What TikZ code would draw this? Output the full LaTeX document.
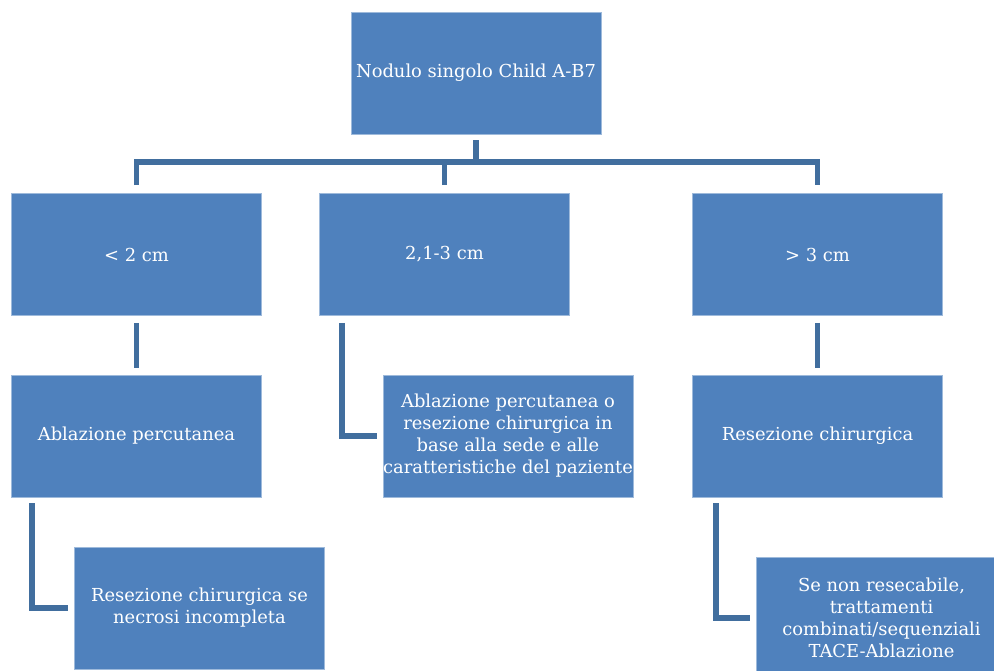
\documentclass[tikz,border=0pt]{standalone}
\usepackage{fontspec}
\setmainfont{DejaVu Serif}
\definecolor{boxblue}{HTML}{4F81BD}
\definecolor{linkblue}{HTML}{416E9E}

\begin{document}
\begin{tikzpicture}[x=1pt,y=-1pt,
    box/.style={fill=boxblue,draw=boxblue!55!white,line width=0.7pt,
      minimum width=250pt,minimum height=122pt,inner sep=0pt,
      align=center,text=white,font=\fontsize{17.9}{22}\selectfont},
    link/.style={draw=linkblue,line width=5.5pt}]
      \useasboundingbox (0,0) rectangle (994,671);
      \clip (0,0) rectangle (994,671);

      \node[box] (top) at (476,73) {Nodulo singolo Child A-B7};
      \node[box] (small) at (136.5,254.5) {< 2 cm};
      \node[box] (mid) at (444.5,254.5) {2,1-3 cm};
      \node[box] (large) at (817.5,254.5) {> 3 cm};

      \node[box] (abl) at (136.5,436) {Ablazione percutanea};
      \node[box] (opt) at (508,436) {Ablazione percutanea o\\resezione chirurgica in\\base alla sede e alle\\caratteristiche del paziente};
      \node[box] (res) at (817.5,436) {Resezione chirurgica};

      \node[box] (resnec) at (199.5,608) {Resezione chirurgica se\\necrosi incompleta};
      \node[box] (combi) at (881.5,618) {Se non resecabile,\\trattamenti\\combinati/sequenziali\\TACE-Ablazione};

      \coordinate (hub) at (476,162);
      \draw[link] ([yshift=-6pt]top.south) -- (hub);
      \draw[link] ([yshift=8pt]small.north) |- (hub) -| ([yshift=8pt]large.north);
      \draw[link] ([yshift=8pt]mid.north) -- (mid.north |- hub);

      \draw[link] ([yshift=-7pt]small.south) -- ([yshift=7pt]abl.north);
      \draw[link] ([yshift=-7pt]large.south) -- ([yshift=7pt]res.north);
      \draw[link] ([xshift=23pt,yshift=-7pt]mid.south west) |- ([xshift=-6pt]opt.west);

      \draw[link] ([xshift=21pt,yshift=-6pt]abl.south west) |- ([xshift=-6pt]resnec.west);
      \draw[link] ([xshift=24pt,yshift=-6pt]res.south west) |- ([xshift=-6pt]combi.west);
    \end{tikzpicture}
\end{document}
